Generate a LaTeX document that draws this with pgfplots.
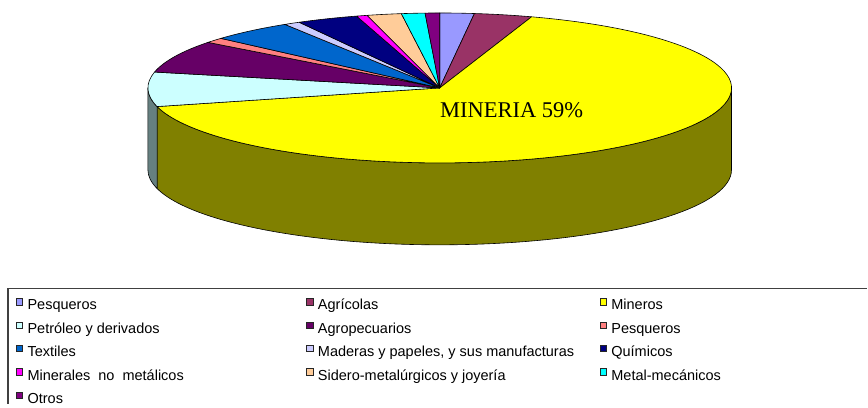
\documentclass[border=0pt]{standalone}
\usepackage{pgfplots}
\pgfplotsset{compat=1.18}
\usepackage{pgfplotstable}
\usepackage{fontspec}
\setmainfont{Liberation Sans}
\newfontfamily\timesfont{Liberation Serif}

\definecolor{sl0}{HTML}{9999FF}
\definecolor{sl1}{HTML}{993366}
\definecolor{sl2}{HTML}{FFFF00}
\definecolor{sl3}{HTML}{CCFFFF}
\definecolor{sl4}{HTML}{660066}
\definecolor{sl5}{HTML}{FF8080}
\definecolor{sl6}{HTML}{0066CC}
\definecolor{sl7}{HTML}{CCCCFF}
\definecolor{sl8}{HTML}{000080}
\definecolor{sl9}{HTML}{FF00FF}
\definecolor{sl10}{HTML}{FFCC99}
\definecolor{sl11}{HTML}{00FFFF}
\definecolor{sl12}{HTML}{800080}

% shares (percent) in clockwise order from 12 o'clock
\pgfplotstableread{
share
1.9
3.2
65.9
7.4
7.0
1.1
4.6
0.9
3.4
0.6
1.9
1.3
0.8
}\piedata

\def\cumangle{90}
\def\topcmds{}
\def\sidecmds{}
\pgfplotsforeachungrouped \i in {0,...,12}{%
  \pgfplotstablegetelem{\i}{share}\of\piedata
  \pgfmathsetmacro\endangle{\cumangle-3.6*\pgfplotsretval}%
  \pgfmathsetmacro\sx{440+292*cos(\cumangle)}%
  \pgfmathsetmacro\sy{316+75*sin(\cumangle)}%
  \xdef\topcmds{\unexpanded\expandafter{\topcmds}\noexpand\filldraw[fill=sl\i,draw=black,line width=0.6pt,line join=round] (axis cs:440,316) -- (axis cs:\sx,\sy) arc[start angle=\cumangle,end angle=\endangle,x radius=292,y radius=75] -- cycle;}%
  \pgfmathsetmacro\lo{max(\endangle,-180)}%
  \pgfmathsetmacro\hi{min(\cumangle,0)}%
  \pgfmathtruncatemacro\vis{\lo<\hi ? 1 : 0}%
  \ifnum\vis=1
    \pgfmathsetmacro\hx{440+292*cos(\hi)}%
    \pgfmathsetmacro\hy{316+75*sin(\hi)}%
    \xdef\sidecmds{\unexpanded\expandafter{\sidecmds}\noexpand\filldraw[fill=sl\i!50!black,draw=black,line width=0.6pt,line join=round] (axis cs:\hx,\hy) arc[start angle=\hi,end angle=\lo,x radius=292,y radius=75] -- ++(0,-82) arc[start angle=\lo,end angle=\hi,x radius=292,y radius=75] -- cycle;}%
  \fi
  \xdef\cumangle{\endangle}%
}

\newcommand{\lstrut}{\rule[-5.8pt]{0pt}{23.7pt}}
\newcommand{\ca}[1]{\makebox[274.4pt][l]{\lstrut#1}}
\newcommand{\cb}[1]{\makebox[277.4pt][l]{\lstrut#1}}
\newcommand{\cc}[1]{\makebox[200pt][l]{\lstrut#1}}

\begin{document}
\begin{tikzpicture}
\begin{axis}[
  x=1pt, y=1pt,
  xmin=0, xmax=868, ymin=0, ymax=404,
  hide axis,
  clip=false,
  legend columns=3,
  legend image code/.code={\filldraw[#1,draw=black!85,line width=0.6pt] (0pt,-3.2pt) rectangle (6.4pt,3.2pt);},
  legend style={
    draw=none, fill=none,
    at={(axis cs:16,113.7)}, anchor=north west,
    inner sep=0pt, outer sep=0pt,
    row sep=0pt, column sep=2.6pt,
    cells={anchor=west, inner sep=0pt},
    font=\fontsize{14.5}{17}\selectfont,
  },
]
\path (axis cs:0,0) rectangle (axis cs:868,404);
\sidecmds
\topcmds
\node[font=\timesfont\fontsize{22.5}{27}\selectfont, anchor=base] at (axis cs:512,286) {MINERIA 59\%};
\draw[black!75, line width=1.2pt] (axis cs:8,0) -- (axis cs:8,115) -- (axis cs:868,115);

\addlegendimage{fill=sl0}  \addlegendentry{\ca{Pesqueros}}
\addlegendimage{fill=sl1}  \addlegendentry{\cb{Agrícolas}}
\addlegendimage{fill=sl2}  \addlegendentry{\cc{Mineros}}
\addlegendimage{fill=sl3}  \addlegendentry{\ca{Petróleo y derivados}}
\addlegendimage{fill=sl4}  \addlegendentry{\cb{Agropecuarios}}
\addlegendimage{fill=sl5}  \addlegendentry{\cc{Pesqueros}}
\addlegendimage{fill=sl6}  \addlegendentry{\ca{Textiles}}
\addlegendimage{fill=sl7}  \addlegendentry{\cb{Maderas y papeles, y sus manufacturas}}
\addlegendimage{fill=sl8}  \addlegendentry{\cc{Químicos}}
\addlegendimage{fill=sl9}  \addlegendentry{\ca{Minerales\ \ no\ \ metálicos}}
\addlegendimage{fill=sl10} \addlegendentry{\cb{Sidero-metalúrgicos y joyería}}
\addlegendimage{fill=sl11} \addlegendentry{\cc{Metal-mecánicos}}
\addlegendimage{fill=sl12} \addlegendentry{\ca{Otros}}
\end{axis}
\end{tikzpicture}
\end{document}
